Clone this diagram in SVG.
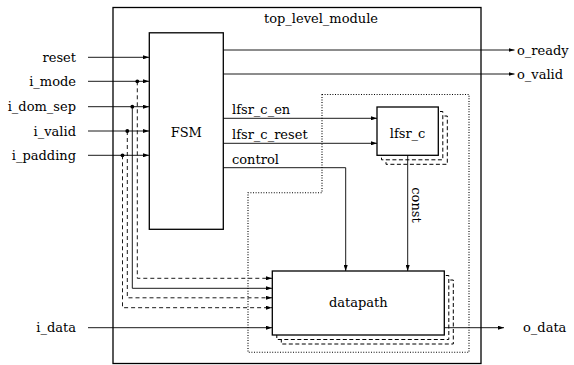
<svg xmlns="http://www.w3.org/2000/svg" width="574" height="365" viewBox="0 0 574 365">
  <style>
    text { font-family: "DejaVu Serif", serif; font-size: 13px; fill: #000; }
    .box { fill: #fff; stroke: #000; stroke-width: 1.3; }
    .copy { fill: #fff; stroke: #000; stroke-width: 1; stroke-dasharray: 4 2.5; }
    .wire { fill: none; stroke: #000; stroke-width: 0.9; }
    .dash { stroke-dasharray: 4 3; }
    .dots { fill: none; stroke: #000; stroke-width: 1.1; stroke-dasharray: 1 1.6; }
    .r { text-anchor: end; }
    .m { text-anchor: middle; }
  </style>
  <defs>
    <marker id="arr" markerWidth="6" markerHeight="4" refX="6" refY="2" orient="auto" markerUnits="userSpaceOnUse">
      <path d="M0,0 L6,2 L0,4 z" fill="#000" stroke="none"/>
    </marker>
  </defs>

  <!-- enclosing module -->
  <g id="top_level_module">
    <rect x="113" y="7.5" width="368" height="356" fill="#fff" stroke="#000" stroke-width="1.3"/>
    <text class="m" x="321" y="23">top_level_module</text>
  </g>

  <!-- region grouping the lfsr and datapath -->
  <g id="region">
    <path class="dots" d="M322,94.5 H469 V352.3 H248 V192.7 H322 Z"/>
  </g>

  <g id="fsm">
    <rect class="box" x="149.3" y="32.8" width="74" height="196.5"/>
    <text class="m" x="186.3" y="136.7">FSM</text>
  </g>

  <g id="lfsr_c">
    <rect class="copy" x="386" y="116" width="61.3" height="48.3"/>
    <rect class="copy" x="381.5" y="111.5" width="61.3" height="48.3"/>
    <rect class="box" x="377" y="107" width="61.3" height="48.3"/>
    <text class="m" x="407.6" y="137.7">lfsr_c</text>
  </g>

  <g id="datapath">
    <rect class="copy" x="281.3" y="280" width="172" height="64"/>
    <rect class="copy" x="276.8" y="275.5" width="172" height="64"/>
    <rect class="box" x="272.3" y="271" width="172" height="64"/>
    <text class="m" x="358.3" y="307">datapath</text>
  </g>

  <g id="connectors">
    <!-- inputs to FSM -->
    <line class="wire" x1="88" y1="57.3" x2="149" y2="57.3" marker-end="url(#arr)"/>
    <line class="wire" x1="88" y1="81.3" x2="149" y2="81.3" marker-end="url(#arr)"/>
    <line class="wire" x1="88" y1="106.7" x2="149" y2="106.7" marker-end="url(#arr)"/>
    <line class="wire" x1="88" y1="131" x2="149" y2="131" marker-end="url(#arr)"/>
    <line class="wire" x1="88" y1="155.3" x2="149" y2="155.3" marker-end="url(#arr)"/>

    <!-- branches from inputs to datapath -->
    <path class="wire dash" d="M137.3,81.3 V278.3 H272" marker-end="url(#arr)"/>
    <path class="wire" d="M132.3,106.7 V288.3 H272" marker-end="url(#arr)"/>
    <path class="wire dash" d="M127.3,131 V297.8 H272" marker-end="url(#arr)"/>
    <path class="wire dash" d="M122.5,155.3 V307.7 H272" marker-end="url(#arr)"/>
    <circle cx="137.3" cy="81.3" r="1.9"/>
    <circle cx="132.3" cy="106.7" r="1.9"/>
    <circle cx="127.3" cy="131" r="1.9"/>
    <circle cx="122.5" cy="155.3" r="1.9"/>

    <line class="wire" x1="88" y1="327.7" x2="272" y2="327.7" marker-end="url(#arr)"/>

    <!-- FSM outputs -->
    <line class="wire" x1="223.3" y1="50" x2="514.5" y2="50" marker-end="url(#arr)"/>
    <line class="wire" x1="223.3" y1="74" x2="514.5" y2="74" marker-end="url(#arr)"/>
    <line class="wire" x1="223.3" y1="118.3" x2="377" y2="118.3" marker-end="url(#arr)"/>
    <line class="wire" x1="223.3" y1="143.3" x2="377" y2="143.3" marker-end="url(#arr)"/>
    <path class="wire" d="M223.3,167.7 H345.7 V271" marker-end="url(#arr)"/>

    <!-- lfsr constant to datapath -->
    <line class="wire" x1="407.7" y1="155.3" x2="407.7" y2="271" marker-end="url(#arr)"/>

    <!-- datapath output -->
    <line class="wire" x1="444.3" y1="327.7" x2="504" y2="327.7" marker-end="url(#arr)"/>
  </g>

  <g id="labels">
    <text class="r" x="76" y="62">reset</text>
    <text class="r" x="76" y="86">i_mode</text>
    <text class="r" x="76" y="111.2">i_dom_sep</text>
    <text class="r" x="76" y="135.5">i_valid</text>
    <text class="r" x="76" y="159.8">i_padding</text>
    <text class="r" x="76" y="332.2">i_data</text>
    <text x="517" y="54.5">o_ready</text>
    <text x="517" y="78.5">o_valid</text>
    <text x="523" y="332.2">o_data</text>
    <text x="232" y="114">lfsr_c_en</text>
    <text x="232" y="139.3">lfsr_c_reset</text>
    <text x="232" y="163.5">control</text>
    <text class="m" transform="translate(411.5,205) rotate(90)">const</text>
  </g>
</svg>
